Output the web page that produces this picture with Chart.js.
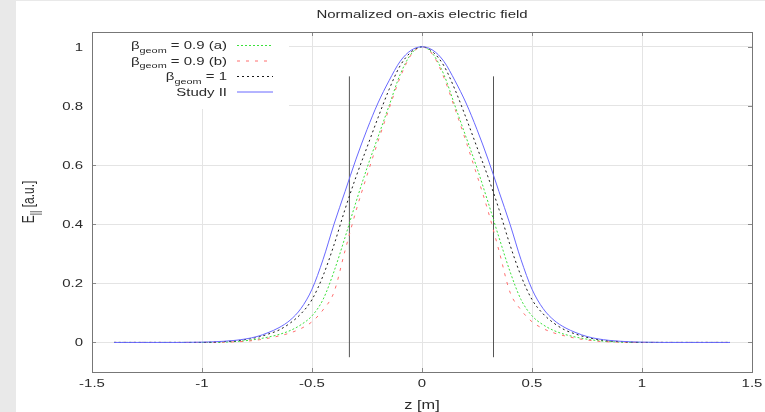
<!DOCTYPE html>
<html><head><meta charset="utf-8">
<script src="https://cdn.jsdelivr.net/npm/chart.js@4.4.1/dist/chart.umd.min.js"></script>
<style>html,body{margin:0;padding:0;background:#fff;}canvas{display:block;}</style>
</head><body>
<canvas id="c" width="765" height="412"></canvas>
<script>
// ---- data ----
const zPositions = [-1.4,-1.3,-1.2,-1.1,-1.0,-0.95,-0.9,-0.85,-0.8,-0.75,-0.7,-0.65,-0.6,-0.55,-0.5,-0.45,-0.4,-0.35,-0.3,-0.25,-0.2,-0.15,-0.1,-0.05,0,
  0.05,0.1,0.15,0.2,0.25,0.3,0.35,0.4,0.45,0.5,0.55,0.6,0.65,0.7,0.75,0.8,0.85,0.9,0.95,1.0,1.1,1.2,1.3,1.4];
const fieldBeta09a = [0,0,0,0, 0,0,0.001,0.003,0.006,0.011,0.018,0.027,0.040,0.060,0.090,0.145,0.240,0.355,0.475,0.590,0.695,0.800,0.905,0.975, 1.000,
  0.975,0.905,0.800,0.695,0.590,0.475,0.355,0.240,0.145,0.090,0.060,0.040,0.027,0.018,0.011,0.006,0.003,0.001,0,0, 0,0,0,0];
const fieldBeta09b = [0,0,0,0, 0,0,0.001,0.002,0.004,0.008,0.014,0.022,0.032,0.047,0.070,0.110,0.170,0.310,0.445,0.565,0.680,0.790,0.895,0.972, 1.000,
  0.972,0.895,0.790,0.680,0.565,0.445,0.310,0.170,0.110,0.070,0.047,0.032,0.022,0.014,0.008,0.004,0.002,0.001,0,0, 0,0,0,0];
const fieldBeta1 = [0,0,0,0, 0,0.001,0.003,0.005,0.010,0.017,0.028,0.042,0.065,0.097,0.145,0.225,0.330,0.450,0.560,0.660,0.760,0.855,0.935,0.982, 1.000,
  0.982,0.935,0.855,0.760,0.660,0.560,0.450,0.330,0.225,0.145,0.097,0.065,0.042,0.028,0.017,0.010,0.005,0.003,0.001,0, 0,0,0,0];
const fieldStudy2 = [0,0,0,0, 0.001,0.002,0.004,0.007,0.012,0.020,0.033,0.050,0.075,0.115,0.180,0.280,0.400,0.510,0.620,0.720,0.810,0.885,0.950,0.988, 1.000,
  0.988,0.950,0.885,0.810,0.720,0.620,0.510,0.400,0.280,0.180,0.115,0.075,0.050,0.033,0.020,0.012,0.007,0.004,0.002,0.001, 0,0,0,0];
const seriesLabels = ['\u03B2_{geom} = 0.9 (a)', '\u03B2_{geom} = 0.9 (b)', '\u03B2_{geom} = 1', 'Study II'];
const markerZ = [-0.33, 0.325];
const markerRange = [-0.05, 0.9];
const xTickValues = [-1.5,-1,-0.5,0,0.5,1,1.5];
const yTickValues = [0,0.2,0.4,0.6,0.8,1];
const xRange = [-1.5, 1.5];
const yRange = [-0.1, 1.05];
const chartTitle = 'Normalized on-axis electric field';
const xTitle = 'z [m]';
const yTitle = 'E_{||} [a.u.]';

// ---- helpers ----
const FONT = '"Liberation Sans", Arial, sans-serif';
const SX = 1.36;          // horizontal stretch of the reference text
const TXT = '#2a2a2a';
function pts(ys){ return zPositions.map((z,i)=>({x:z,y:ys[i]})); }
function fmt(v){ return String(Math.round(v*10)/10); }
function richParts(text){
  const parts=[]; const re=/_\{([^}]*)\}/g; let last=0,m;
  while((m=re.exec(text))){ if(m.index>last) parts.push({t:text.slice(last,m.index),sub:false}); parts.push({t:m[1],sub:true}); last=re.lastIndex; }
  if(last<text.length) parts.push({t:text.slice(last),sub:false});
  return parts;
}
// draws text in a local frame already scaled as needed
function drawRich(ctx,text,x,y,align,size,color){
  const parts=richParts(text); const subSize=Math.round(size*0.75);
  let w=0;
  parts.forEach(p=>{ ctx.font=(p.sub?subSize:size)+'px '+FONT; p.w=ctx.measureText(p.t).width; w+=p.w; });
  let cx = align==='right'? x-w : align==='center'? x-w/2 : x;
  ctx.textAlign='left'; ctx.textBaseline='alphabetic'; ctx.fillStyle=color;
  parts.forEach(p=>{ ctx.font=(p.sub?subSize:size)+'px '+FONT; ctx.fillText(p.t,cx,y+(p.sub?size*0.32:0)); cx+=p.w; });
}
function stretchedText(ctx,text,x,y,align,size){
  ctx.save(); ctx.translate(x,y); ctx.scale(SX,1);
  drawRich(ctx,text,0,0,align,size,TXT);
  ctx.restore();
}

const styles = [
  {color:'rgb(60,225,60)', dash:[2,2]},
  {color:'rgb(255,110,110)', dash:[3,6]},
  {color:'rgb(25,25,25)', dash:[2,3]},
  {color:'rgb(105,105,255)', dash:[]}
];
const seriesData = [fieldBeta09a, fieldBeta09b, fieldBeta1, fieldStudy2];

const datasets = seriesData.map((d,i)=>({
  label: seriesLabels[i], data: pts(d), borderColor: styles[i].color, borderDash: styles[i].dash,
  borderWidth: 1, pointRadius: 0, fill:false, cubicInterpolationMode:'monotone', order: 4-i
}));
markerZ.forEach(z=>{
  datasets.push({label:'marker', data:[{x:z,y:markerRange[0]},{x:z,y:markerRange[1]}], borderColor:'#555', borderWidth:1, pointRadius:0, fill:false, order:10});
});

const decor = {
  id:'decor',
  beforeDraw(chart){
    const ctx=chart.ctx; ctx.save();
    ctx.fillStyle='#fff'; ctx.fillRect(0,0,chart.width,chart.height);
    ctx.fillStyle='#e9e9e9'; ctx.fillRect(0,0,16,chart.height); ctx.fillRect(0,0,chart.width,1);
    ctx.restore();
  },
  beforeDatasetsDraw(chart){
    const ctx=chart.ctx, a=chart.chartArea, xs=chart.scales.x, ys=chart.scales.y;
    ctx.save();
    ctx.strokeStyle='#888'; ctx.lineWidth=1;
    ctx.beginPath();
    xTickValues.forEach(v=>{ const px=Math.round(xs.getPixelForValue(v))+0.5;
      ctx.moveTo(px,a.bottom); ctx.lineTo(px,a.bottom-4); ctx.moveTo(px,a.top); ctx.lineTo(px,a.top+4); });
    yTickValues.forEach(v=>{ const py=Math.round(ys.getPixelForValue(v))+0.5;
      ctx.moveTo(a.left,py); ctx.lineTo(a.left+4,py); ctx.moveTo(a.right,py); ctx.lineTo(a.right-4,py); });
    ctx.stroke();
    // opaque key box
    ctx.fillStyle='#fff'; ctx.fillRect(a.left+1, a.top+1, 196, 76);
    // border
    ctx.strokeStyle='#777';
    ctx.strokeRect(Math.round(a.left)+0.5, Math.round(a.top)+0.5, Math.round(a.right-a.left), Math.round(a.bottom-a.top));
    ctx.restore();
  },
  afterDraw(chart){
    const ctx=chart.ctx, a=chart.chartArea, xs=chart.scales.x, ys=chart.scales.y;
    ctx.save();
    // tick labels
    xTickValues.forEach(v=> stretchedText(ctx, fmt(v), xs.getPixelForValue(v), 387, 'center', 11));
    yTickValues.forEach(v=> stretchedText(ctx, fmt(v), 83, ys.getPixelForValue(v)+4, 'right', 11));
    // title
    stretchedText(ctx, chartTitle, (a.left+a.right)/2, 18, 'center', 11);
    // x title
    stretchedText(ctx, xTitle, (a.left+a.right)/2, 409, 'center', 12);
    // y title (rotated; glyph height stretched)
    ctx.save(); ctx.translate(33.5,(a.top+a.bottom)/2); ctx.rotate(-Math.PI/2); ctx.scale(1,SX);
    drawRich(ctx,yTitle,0,0,'center',12,TXT); ctx.restore();
    // key
    const rowsY=[45,60.5,76,91.5];
    seriesLabels.forEach((lab,i)=>{
      const y=rowsY[i];
      stretchedText(ctx, lab, 227, y+4, 'right', 11);
      ctx.beginPath(); ctx.strokeStyle=styles[i].color; ctx.lineWidth=1; ctx.setLineDash(styles[i].dash);
      ctx.moveTo(237,y+0.5); ctx.lineTo(273,y+0.5); ctx.stroke(); ctx.setLineDash([]);
    });
    ctx.restore();
  }
};

new Chart(document.getElementById('c'), {
  type:'line',
  data:{datasets},
  options:{
    responsive:false, animation:false, events:[],
    layout:{padding:{top:32,right:13,bottom:0,left:0}},
    plugins:{legend:{display:false}, title:{display:false}, tooltip:{enabled:false}},
    scales:{
      x:{type:'linear', min:xRange[0], max:xRange[1],
        afterBuildTicks(s){ s.ticks = xTickValues.map(v=>({value:v})); },
        afterFit(s){ s.height = 40; },
        grid:{color:'#e4e4e4', drawTicks:false}, border:{display:false},
        ticks:{display:false}},
      y:{type:'linear', min:yRange[0], max:yRange[1],
        afterBuildTicks(s){ s.ticks = yTickValues.map(v=>({value:v})); },
        afterFit(s){ s.width = 92; },
        grid:{color:'#e4e4e4', drawTicks:false}, border:{display:false},
        ticks:{display:false}}
    }
  },
  plugins:[decor]
});
</script>
</body></html>
